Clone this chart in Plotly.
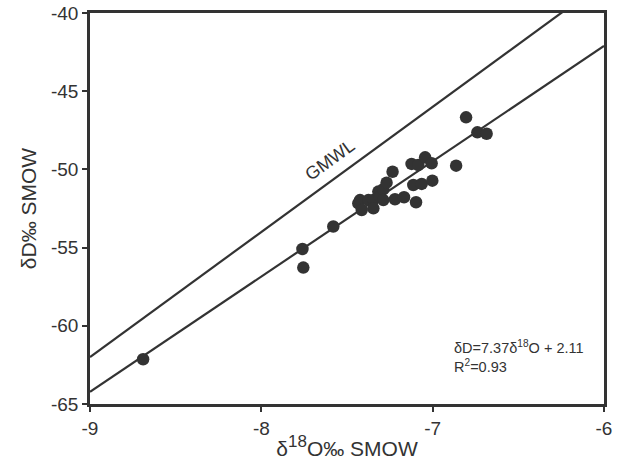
import plotly.graph_objects as go

# measured isotope samples
d18O = [-8.69, -7.76, -7.755, -7.58, -7.434, -7.424, -7.414, -7.375, -7.346, -7.346,
        -7.317, -7.307, -7.288, -7.288, -7.269, -7.234, -7.22, -7.167, -7.123, -7.113,
        -7.097, -7.084, -7.064, -7.044, -7.006, -7.002, -6.863, -6.805, -6.739, -6.685]
dD = [-62.14, -55.09, -56.28, -53.65, -52.17, -51.96, -52.6, -51.96, -51.96, -52.49,
      -51.42, -51.74, -51.27, -51.96, -50.85, -50.15, -51.91, -51.78, -49.65, -51.0,
      -52.1, -49.72, -50.93, -49.23, -49.61, -50.72, -49.76, -46.67, -47.63, -47.72]

x_ticks = [-9, -8, -7, -6]
y_ticks = [-65, -60, -55, -50, -45, -40]

line_x = [-9, -6]
gmwl_y = [8 * v + 10 for v in line_x]
fit_y = [7.37 * v + 2.11 for v in line_x]

ink = "#333333"
fig = go.Figure()
fig.add_trace(go.Scatter(x=line_x, y=gmwl_y, mode="lines", line=dict(color=ink, width=2.2)))
fig.add_trace(go.Scatter(x=line_x, y=fit_y, mode="lines", line=dict(color=ink, width=2.2)))
fig.add_trace(go.Scatter(x=d18O, y=dD, mode="markers", marker=dict(color=ink, size=12.5)))

fig.add_annotation(x=-7.6, y=-49.4, text="GMWL", showarrow=False, textangle=-36,
                   font=dict(size=18, color=ink))
fig.add_annotation(x=-6.885, y=-61.95, text="δD=7.37δ<sup>18</sup>O + 2.11<br>R<sup>2</sup>=0.93",
                   showarrow=False, xanchor="left", align="left", font=dict(size=14.5, color=ink))

axis = dict(showgrid=False, zeroline=False, showline=True, linecolor=ink, linewidth=2.5,
            mirror=True, ticks="outside", ticklen=5, tickwidth=2, tickcolor=ink,
            tickfont=dict(size=19, color=ink), automargin=False)
fig.update_xaxes(range=[-9, -6], tickvals=x_ticks, ticktext=[str(v) for v in x_ticks],
                 title=dict(text="δ<sup><span style='font-size:17px'>18</span></sup>O‰ SMOW",
                            font=dict(size=21, color=ink), standoff=4), **axis)
fig.update_yaxes(range=[-65, -40], tickvals=y_ticks, ticktext=[str(v) for v in y_ticks],
                 title=dict(text="δD‰ SMOW", font=dict(size=21, color=ink), standoff=9), **axis)

fig.update_layout(width=626, height=469, showlegend=False, plot_bgcolor="white", paper_bgcolor="white",
                  margin=dict(l=90, r=22, t=13, b=65), font=dict(family="Liberation Sans, Arial"))
fig.write_html("out.html", config={"displayModeBar": False},
               post_script="document.body.style.margin='0';")
